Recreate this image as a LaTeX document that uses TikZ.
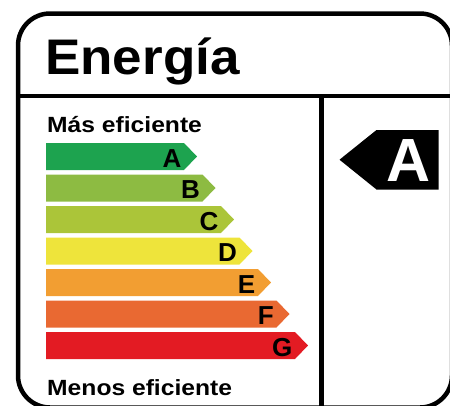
\documentclass[tikz,border=0pt]{standalone}
\usepackage{fontspec}
\setmainfont{Liberation Sans}
\definecolor{gradeA}{RGB}{29,163,79}
\definecolor{gradeB}{RGB}{141,187,66}
\definecolor{gradeC}{RGB}{171,197,57}
\definecolor{gradeD}{RGB}{238,228,59}
\definecolor{gradeE}{RGB}{242,158,50}
\definecolor{gradeF}{RGB}{233,105,50}
\definecolor{gradeG}{RGB}{227,27,35}
\tikzset{
  frame/.style={line width=4.5pt},
  grade/.style={anchor=base east, inner sep=0pt, font=\bfseries\fontsize{26}{26}\selectfont},
  caption/.style={anchor=base west, inner sep=0pt, font=\bfseries\fontsize{22}{22}\selectfont, xscale=1.12},
}
\begin{document}
\begin{tikzpicture}[x=1pt,y=-1pt]
  \useasboundingbox (0,0) rectangle (450,405);
  \draw[frame, rounded corners=32pt] (18,13.5) rectangle (452,407.5);
  \draw[frame] (18,96) -- (452,96);
  \draw[frame] (321.5,96) -- (321.5,407.5);
  \node[anchor=base west, inner sep=0pt, font=\bfseries\fontsize{50}{50}\selectfont, xscale=1.06] (title) at (45,74) {Energía};
  \node[caption] (best) at (47,132) {Más eficiente};
  \node[caption] (worst) at (47,395) {Menos eficiente};
  % scale bands
  \fill[gradeA] (46,143) -- (184,143) -- (197,156.5) -- (184,170) -- (46,170) -- cycle;
  \fill[gradeB] (46,174.5) -- (202.5,174.5) -- (215.5,188) -- (202.5,201.5) -- (46,201.5) -- cycle;
  \fill[gradeC] (46,206) -- (221,206) -- (234,219.5) -- (221,233) -- (46,233) -- cycle;
  \fill[gradeD] (46,237.5) -- (239.5,237.5) -- (252.5,251) -- (239.5,264.5) -- (46,264.5) -- cycle;
  \fill[gradeE] (46,269) -- (258,269) -- (271,282.5) -- (258,296) -- (46,296) -- cycle;
  \fill[gradeF] (46,300.5) -- (276.5,300.5) -- (289.5,314) -- (276.5,327.5) -- (46,327.5) -- cycle;
  \fill[gradeG] (46,332) -- (295,332) -- (308,345.5) -- (295,359) -- (46,359) -- cycle;
  \node[grade] (A) at (181.5,167) {A};
  \node[grade] (B) at (200,198.5) {B};
  \node[grade] (C) at (218.5,230) {C};
  \node[grade] (D) at (237,261.5) {D};
  \node[grade] (E) at (255.5,293) {E};
  \node[grade] (F) at (274,324.5) {F};
  \node[grade] (G) at (292.5,356) {G};
  % rating pointer
  \fill (438.5,130) -- (376.5,130) -- (339.5,159.7) -- (376.5,189.5) -- (438.5,189.5) -- cycle;
  \node[anchor=base, inner sep=0pt, text=white, font=\bfseries\fontsize{61}{61}\selectfont] (rating) at (409,181) {A};
\end{tikzpicture}
\end{document}
